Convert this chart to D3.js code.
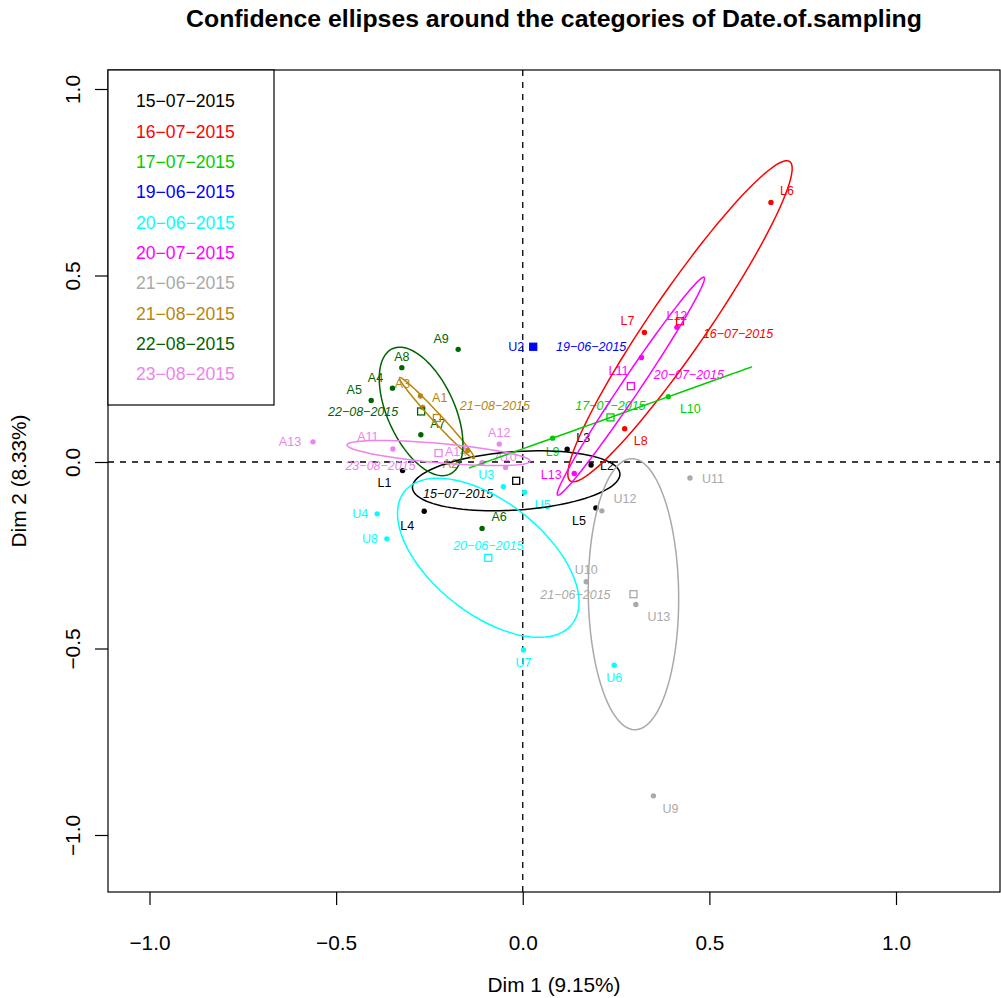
<!DOCTYPE html>
<html>
<head>
<meta charset="utf-8">
<script src="https://cdn.jsdelivr.net/npm/d3@7"></script>
<style>
  body { margin: 0; background: #fff; }
  text { font-family: "Liberation Sans", Arial, Helvetica, sans-serif; }
</style>
</head>
<body>
<div id="chart"></div>
<script>
// categories of Date.of.sampling, legend order
const groups = ["15-07-2015", "16-07-2015", "17-07-2015", "19-06-2015", "20-06-2015",
                "20-07-2015", "21-06-2015", "21-08-2015", "22-08-2015", "23-08-2015"];
const groupColors = ["#000000", "#FF0000", "#00CD00", "#0000FF", "#00FFFF",
                     "#FF00FF", "#A9A9A9", "#B8860B", "#006400", "#EE82EE"];

// individuals: name, Dim 1, Dim 2, group index
const pointNames = ["L1", "L2", "L3", "L4", "L5",
                    "L6", "L7", "L8",
                    "L9", "L10",
                    "U2",
                    "U3", "U4", "U5", "U6", "U7", "U8",
                    "L11", "L12", "L13",
                    "U9", "U10", "U11", "U12", "U13",
                    "A1", "A2", "A3",
                    "A4", "A5", "A6", "A7", "A8", "A9",
                    "A10", "A11", "A12", "A13", "A14"];
const dim1 = [-0.322, 0.183, 0.119, -0.264, 0.196,
              0.665, 0.326, 0.273,
              0.080, 0.390,
              0.028,
              -0.052, -0.390, 0.005, 0.245, 0.002, -0.364,
              0.318, 0.413, 0.138,
              0.350, 0.170, 0.448, 0.212, 0.303,
              -0.268, -0.148, -0.274,
              -0.349, -0.406, -0.109, -0.273, -0.324, -0.173,
              -0.046, -0.348, -0.063, -0.562, -0.109];
const dim2 = [-0.023, -0.008, 0.034, -0.132, -0.123,
              0.696, 0.347, 0.089,
              0.064, 0.175,
              0.309,
              -0.066, -0.139, -0.081, -0.545, -0.504, -0.206,
              0.280, 0.361, -0.031,
              -0.895, -0.321, -0.043, -0.131, -0.382,
              0.146, 0.031, 0.177,
              0.198, 0.165, -0.178, 0.073, 0.253, 0.302,
              -0.015, 0.035, 0.048, 0.054, -0.002];
const pointGroup = [0, 0, 0, 0, 0,
                    1, 1, 1,
                    2, 2,
                    3,
                    4, 4, 4, 4, 4, 4,
                    5, 5, 5,
                    6, 6, 6, 6, 6,
                    7, 7, 7,
                    8, 8, 8, 8, 8, 8,
                    9, 9, 9, 9, 9];

const xTicks = [-1, -0.5, 0, 0.5, 1];
const yTicks = [-1, -0.5, 0, 0.5, 1];

// label placement (pixel nudges, like autoLab)
const labelNudge = {
  L1: [-18, 12], L2: [16, 1], L3: [16, -12], L4: [-17, 14], L5: [-17, 13],
  L6: [16, -12], L7: [-17, -12], L8: [16, 12], L9: [0, 13], L10: [22, 12],
  U2: [-17, 0], U3: [-17, -12], U4: [-17, 0], U5: [18, 12], U6: [0, 12],
  U7: [0, 13], U8: [-17, 0], L11: [-23, 13], L12: [0, -12], L13: [-23, 1],
  U9: [17, 13], U10: [0, -12], U11: [23, 0], U12: [23, -12], U13: [23, 12],
  A1: [17, -10], A2: [-17, 13], A3: [-18, -12],
  A4: [-17, -11], A5: [-17, -11], A6: [17, -12], A7: [17, -11], A8: [0, -11], A9: [-17, -11],
  A10: [0, -11], A11: [-25, -12], A12: [0, -12], A13: [-23, 0], A14: [-26, -11]
};
const groupNudge = [[-58, 13], [58, 12], [0, -12], [58, 0], [0, -12],
                    [58, -12], [-58, 0], [58, -12], [-58, 0], [-58, 12]];

const W = 1001, H = 998;
const plot = { left: 108, right: 1000, top: 70, bottom: 892 };

const x = d3.scaleLinear().domain([-1, 1]).range([149.5, 896]);
const y = d3.scaleLinear().domain([-1, 1]).range([835, 89]);

const svg = d3.select("#chart").append("svg")
  .attr("width", W).attr("height", H);

const mdash = s => s.replace(/-/g, "\u2212");

// confidence ellipse of the mean, as in ellipse::ellipse(cov/n, level = 0.95)
function confEllipse(px, py) {
  const n = px.length;
  const mx = d3.mean(px), my = d3.mean(py);
  let vx = 0, vy = 0, vxy = 0;
  for (let i = 0; i < n; i++) {
    vx += (px[i] - mx) ** 2;
    vy += (py[i] - my) ** 2;
    vxy += (px[i] - mx) * (py[i] - my);
  }
  vx /= (n - 1) * n; vy /= (n - 1) * n; vxy /= (n - 1) * n;
  const sx = Math.sqrt(vx), sy = Math.sqrt(vy);
  const r = Math.max(-1, Math.min(1, vxy / (sx * sy)));
  const d = Math.acos(r);
  const t = Math.sqrt(-2 * Math.log(0.05));
  const pts = [];
  for (let k = 0; k < 100; k++) {
    const a = 2 * Math.PI * k / 99;
    pts.push([t * sx * Math.cos(a + d / 2) + mx, t * sy * Math.cos(a - d / 2) + my]);
  }
  return pts;
}

const g = svg.append("g");

// reference lines
g.append("line")
  .attr("x1", plot.left).attr("x2", plot.right)
  .attr("y1", y(0)).attr("y2", y(0))
  .attr("stroke", "#000").attr("stroke-width", 1.3).attr("stroke-dasharray", "6,6");
g.append("line")
  .attr("x1", x(0)).attr("x2", x(0))
  .attr("y1", plot.top).attr("y2", plot.bottom)
  .attr("stroke", "#000").attr("stroke-width", 1.3).attr("stroke-dasharray", "6,6");

const points = pointNames.map((name, i) => ({
  name, x: dim1[i], y: dim2[i], g: pointGroup[i]
}));

// individuals
g.selectAll("circle.ind").data(points).enter().append("circle")
  .attr("class", "ind")
  .attr("cx", d => x(d.x)).attr("cy", d => y(d.y)).attr("r", 2.7)
  .attr("fill", d => groupColors[d.g]);

g.selectAll("text.ind").data(points).enter().append("text")
  .attr("class", "ind")
  .attr("x", d => x(d.x) + labelNudge[d.name][0])
  .attr("y", d => y(d.y) + labelNudge[d.name][1])
  .attr("dy", "0.36em")
  .attr("text-anchor", "middle")
  .attr("font-size", 12.5)
  .attr("fill", d => groupColors[d.g])
  .text(d => d.name);

// group means
const means = groups.map((lab, k) => {
  const members = points.filter(p => p.g === k);
  return {
    lab, k, n: members.length,
    px: members.map(p => p.x), py: members.map(p => p.y),
    x: d3.mean(members, p => p.x), y: d3.mean(members, p => p.y)
  };
});

g.selectAll("rect.mean").data(means).enter().append("rect")
  .attr("class", "mean")
  .attr("x", d => x(d.x) - 3.5).attr("y", d => y(d.y) - 3.5)
  .attr("width", 7).attr("height", 7)
  .attr("fill", d => d.n === 1 ? groupColors[d.k] : "none")
  .attr("stroke", d => groupColors[d.k]).attr("stroke-width", 1.3);

g.selectAll("text.mean").data(means).enter().append("text")
  .attr("class", "mean")
  .attr("x", d => x(d.x) + groupNudge[d.k][0])
  .attr("y", d => y(d.y) + groupNudge[d.k][1])
  .attr("dy", "0.36em")
  .attr("text-anchor", "middle")
  .attr("font-size", 12.5)
  .attr("font-style", "italic")
  .attr("fill", d => groupColors[d.k])
  .text(d => mdash(d.lab));

// ellipses
const line = d3.line().x(d => x(d[0])).y(d => y(d[1]));
g.selectAll("path.ell").data(means.filter(d => d.n > 1)).enter().append("path")
  .attr("class", "ell")
  .attr("d", d => line(confEllipse(d.px, d.py)))
  .attr("fill", "none")
  .attr("stroke", d => groupColors[d.k])
  .attr("stroke-width", 1.5);

// frame
svg.append("rect")
  .attr("x", plot.left).attr("y", plot.top)
  .attr("width", plot.right - plot.left).attr("height", plot.bottom - plot.top)
  .attr("fill", "none").attr("stroke", "#000").attr("stroke-width", 1.2);

// x axis
const xAxis = svg.append("g")
  .attr("transform", `translate(0,${plot.bottom})`)
  .call(d3.axisBottom(x).tickValues(xTicks).tickSize(13).tickFormat(d3.format(".1f")));
xAxis.select(".domain").remove();
xAxis.selectAll("line").attr("stroke", "#000").attr("stroke-width", 1.2);
xAxis.selectAll("text")
  .attr("y", 58).attr("dy", null)
  .attr("font-size", 20.8).attr("font-family", null).attr("fill", "#000");

// y axis
const yAxis = svg.append("g")
  .attr("transform", `translate(${plot.left},0)`)
  .call(d3.axisLeft(y).tickValues(yTicks).tickSize(13).tickFormat(d3.format(".1f")));
yAxis.select(".domain").remove();
yAxis.selectAll("line").attr("stroke", "#000").attr("stroke-width", 1.2);
yAxis.selectAll("text")
  .attr("x", null).attr("dy", null)
  .attr("transform", "translate(-28,0) rotate(-90)")
  .attr("text-anchor", "middle")
  .attr("font-size", 20.8).attr("font-family", null).attr("fill", "#000");

// titles
svg.append("text")
  .attr("x", (plot.left + plot.right) / 2).attr("y", 27)
  .attr("text-anchor", "middle")
  .attr("font-size", 24.8).attr("font-weight", "bold")
  .text("Confidence ellipses around the categories of Date.of.sampling");
svg.append("text")
  .attr("x", (plot.left + plot.right) / 2).attr("y", 992)
  .attr("text-anchor", "middle").attr("font-size", 20.8)
  .text("Dim 1 (9.15%)");
svg.append("text")
  .attr("transform", `translate(26,${(plot.top + plot.bottom) / 2}) rotate(-90)`)
  .attr("text-anchor", "middle").attr("font-size", 20.8)
  .text("Dim 2 (8.33%)");

// legend
const legend = svg.append("g");
legend.append("rect")
  .attr("x", 108).attr("y", 70).attr("width", 166).attr("height", 335)
  .attr("fill", "#fff").attr("stroke", "#000").attr("stroke-width", 1.2);
legend.selectAll("text").data(groups).enter().append("text")
  .attr("x", 136)
  .attr("y", (d, i) => 101 + i * 30.33)
  .attr("dy", "0.36em")
  .attr("font-size", 17.6)
  .attr("fill", (d, i) => groupColors[i])
  .text(d => mdash(d));
</script>
</body>
</html>
